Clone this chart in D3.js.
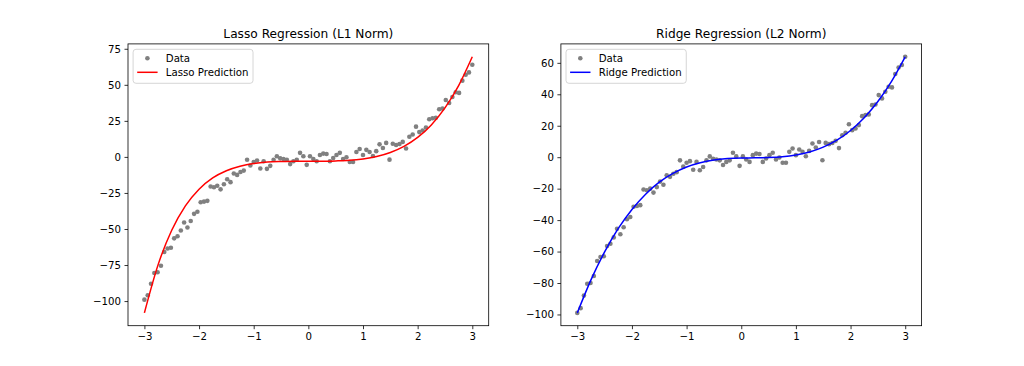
<!DOCTYPE html>
<html><head><meta charset="utf-8">
<script src="https://cdn.jsdelivr.net/npm/d3@7"></script>
<style>
body{margin:0;background:#fff}
svg{display:block}
text{font-family:"DejaVu Sans",sans-serif;fill:#000}
</style>
</head><body>
<svg id="chart" width="1024" height="366"></svg>
<script>
// ---- data ----
const xValues = [
 -3.000,-2.939,-2.879,-2.818,-2.758,-2.697,-2.636,-2.576,-2.515,-2.455,
 -2.394,-2.333,-2.273,-2.212,-2.152,-2.091,-2.030,-1.970,-1.909,-1.848,
 -1.788,-1.727,-1.667,-1.606,-1.545,-1.485,-1.424,-1.364,-1.303,-1.242,
 -1.182,-1.121,-1.061,-1.000,-0.939,-0.879,-0.818,-0.758,-0.697,-0.636,
 -0.576,-0.515,-0.455,-0.394,-0.333,-0.273,-0.212,-0.152,-0.091,-0.030,
  0.030, 0.091, 0.152, 0.212, 0.273, 0.333, 0.394, 0.455, 0.515, 0.576,
  0.636, 0.697, 0.758, 0.818, 0.879, 0.939, 1.000, 1.061, 1.121, 1.182,
  1.242, 1.303, 1.364, 1.424, 1.485, 1.545, 1.606, 1.667, 1.727, 1.788,
  1.848, 1.909, 1.970, 2.030, 2.091, 2.152, 2.212, 2.273, 2.333, 2.394,
  2.455, 2.515, 2.576, 2.636, 2.697, 2.758, 2.818, 2.879, 2.939, 3.000
];
const yValues = [
 -99.0,-96.0,-88.0,-80.5,-80.0,-75.5,-66.0,-63.5,-63.0,-56.5,
 -55.0,-51.0,-45.5,-49.0,-44.5,-39.5,-38.0,-31.5,-31.0,-30.5,
 -20.5,-21.0,-20.0,-22.5,-19.0,-15.5,-17.5,-11.5,-12.5,-10.5,
 -9.5,-2.0,-6.0,-3.5,-2.5,-8.0,-3.0,-8.3,-6.2,-2.0,
  0.5,-1.0,-1.5,-2.0,-5.0,-3.0,-2.0,2.8,0.5,-5.5,
  0.5,-1.5,-3.0,1.3,2.3,2.0,-3.0,-0.8,1.3,2.8,
 -1.5,-0.2,-3.5,-3.5,3.4,5.5,1.3,4.9,3.4,0.6,
  4.0,8.7,6.2,9.7,-1.9,9.1,8.3,9.0,10.4,5.8,
 14.0,15.5,21.0,17.2,18.3,20.4,26.1,26.8,27.2,33.1,
 33.5,39.5,37.4,41.6,44.8,44.4,52.9,57.0,58.6,63.9
];
const predX = [-3,-2.75,-2.5,-2.25,-2,-1.75,-1.5,-1.25,-1,-0.75,-0.5,-0.25,0,
               0.25,0.5,0.75,1,1.25,1.5,1.75,2,2.25,2.5,2.75,3];
const lassoPred = [-108.2,-74.9,-50.9,-34.0,-22.4,-14.6,-9.6,-6.5,-4.6,-3.6,-3.2,-3.0,-3.0,
                   -3.0,-2.8,-2.4,-1.4,0.3,3.1,7.3,13.5,22.2,34.0,49.5,69.5];
const ridgePred = [-99.0,-78.0,-60.2,-45.3,-33.2,-23.5,-15.9,-10.3,-6.2,-3.5,-1.8,-0.9,-0.5,
                   -0.4,-0.2,0.3,1.4,3.3,6.4,10.8,17.0,25.1,35.4,48.2,63.8];
const xTicks = [-3,-2,-1,0,1,2,3];
const lassoYTicks = [-100,-75,-50,-25,0,25,50,75];
const ridgeYTicks = [-100,-80,-60,-40,-20,0,20,40,60];
const titles = ["Lasso Regression (L1 Norm)","Ridge Regression (L2 Norm)"];
const lineLabels = ["Lasso Prediction","Ridge Prediction"];

// ---- layout ----
const svg = d3.select("#chart");
svg.append("rect").attr("width",1024).attr("height",366).attr("fill","#fff");
const axW = 360.7, axTop = 43.9, axBottom = 325.7, axH = axBottom - axTop;
const fs = 10.2;

const panels = [
  {left:128,   title:titles[0], pred:lassoPred, color:"#ff0000", label:lineLabels[0], yTicks:lassoYTicks},
  {left:560.9, title:titles[1], pred:ridgePred, color:"#0000ff", label:lineLabels[1], yTicks:ridgeYTicks}
];

function padded(ext){ const s = ext[1]-ext[0]; return [ext[0]-0.05*s, ext[1]+0.05*s]; }

panels.forEach(p => {
  const g = svg.append("g").attr("transform", `translate(${p.left},${axTop})`);
  const x = d3.scaleLinear().domain(padded(d3.extent(xValues.concat(predX)))).range([0, axW]);
  const y = d3.scaleLinear().domain(padded(d3.extent(yValues.concat(p.pred)))).range([axH, 0]);

  const fmt = d3.format("d");
  const xa = g.append("g").attr("transform", `translate(0,${axH})`)
    .call(d3.axisBottom(x).tickValues(xTicks).tickSize(3.5).tickPadding(3.5).tickFormat(fmt));
  const ya = g.append("g")
    .call(d3.axisLeft(y).tickValues(p.yTicks).tickSize(3.5).tickPadding(3.5).tickFormat(fmt));
  [xa, ya].forEach(a => {
    a.select(".domain").remove();
    a.selectAll("line").attr("stroke","#000").attr("stroke-width",0.8);
    a.selectAll("text").attr("font-size", fs + "px").attr("fill","#000")
      .style("font-family","'DejaVu Sans',sans-serif");
  });

  // scatter
  g.append("g").selectAll("circle").data(xValues).join("circle")
    .attr("cx", d => x(d)).attr("cy", (d,i) => y(yValues[i]))
    .attr("r", 2.3).attr("fill", "#808080");

  // prediction line
  const line = d3.line().x(d => x(d)).y((d,i) => y(p.pred[i])).curve(d3.curveMonotoneX);
  g.append("path").datum(predX).attr("d", line)
    .attr("fill","none").attr("stroke", p.color).attr("stroke-width", 1.5);

  // frame
  g.append("rect").attr("width", axW).attr("height", axH)
    .attr("fill","none").attr("stroke","#000").attr("stroke-width",0.8);

  // title
  g.append("text").attr("x", axW/2).attr("y", -6.1).attr("text-anchor","middle")
    .attr("font-size","12.2px").text(p.title);

  // legend
  const lg = g.append("g").attr("transform","translate(5.1,5.4)");
  const box = lg.append("rect").attr("rx",2.9).attr("ry",2.9).attr("height",34)
    .attr("fill","#fff").attr("fill-opacity",0.8).attr("stroke","#cccccc").attr("stroke-width",0.8);
  lg.append("circle").attr("cx",14.3).attr("cy",9.0).attr("r",2.3).attr("fill","#808080");
  lg.append("line").attr("x1",4.1).attr("x2",24.5).attr("y1",23.0).attr("y2",23.0)
    .attr("stroke",p.color).attr("stroke-width",1.5);
  const t1 = lg.append("text").attr("x",32.7).attr("y",9.0).attr("dy","0.36em")
    .attr("font-size",fs+"px").text("Data");
  const t2 = lg.append("text").attr("x",32.7).attr("y",23.0).attr("dy","0.36em")
    .attr("font-size",fs+"px").text(p.label);
  const tw = Math.max(t1.node().getComputedTextLength(), t2.node().getComputedTextLength());
  box.attr("width", 32.7 + tw + 4.6);
});
</script>
</body></html>
